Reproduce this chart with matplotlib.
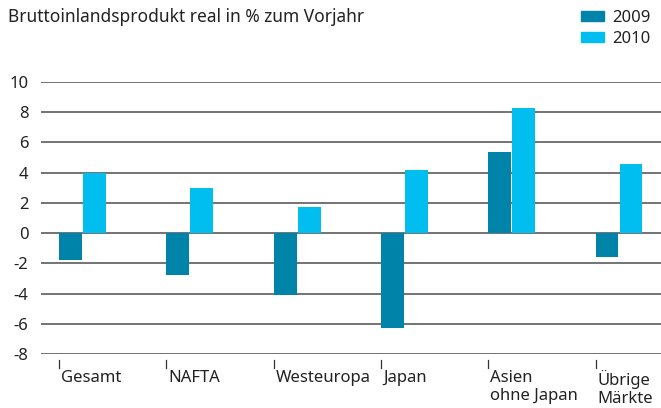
import matplotlib
matplotlib.use("Agg")
import matplotlib.pyplot as plt
import matplotlib.transforms as mtransforms
from matplotlib.patches import Patch

categories = ["Gesamt", "NAFTA", "Westeuropa", "Japan", "Asien\nohne Japan", "Übrige\nMärkte"]
years = ["2009", "2010"]
gdp_2009 = [-1.8, -2.8, -4.1, -6.3, 5.4, -1.6]
gdp_2010 = [4.0, 3.0, 1.7, 4.2, 8.3, 4.6]
yticks = [-8, -6, -4, -2, 0, 2, 4, 6, 8, 10]

dark = "#0083a9"
light = "#00bff0"
txt = "#222222"
fs = 12

plt.rcParams["font.family"] = ["Noto Sans", "DejaVu Sans"]

fig = plt.figure(figsize=(6.61, 4.08), dpi=100)
ax = fig.add_axes([41 / 661, 1 - 354 / 408, 1 - 41 / 661, (354 - 82) / 408])

# gridlines behind the bars
for t in yticks:
    ax.axhline(t, color="#4d4d4d", lw=1.1, zorder=1)

x = list(range(len(categories)))
w = 0.214
ax.bar(x, gdp_2009, width=w, align="edge", color=dark, zorder=2)
ax.bar([i + 0.224 for i in x], gdp_2010, width=w, align="edge", color=light, zorder=2)

ax.set_xlim(-18 / 107.3, 602 / 107.3)
ax.set_ylim(-8, 10)
ax.set_yticks(yticks)
ax.set_yticklabels([str(t) for t in yticks], fontsize=fs, color=txt)
ax.tick_params(axis="y", length=0, pad=9)
ax.set_xticks([])
for s in ax.spines.values():
    s.set_visible(False)

# category ticks and labels below the plot
trans = mtransforms.blended_transform_factory(ax.transData, ax.transAxes)
for i, c in zip(x, categories):
    ax.plot([i, i], [-0.022, -0.05], color="#333333", lw=0.9, transform=trans, clip_on=False)
    ax.text(i + 0.02, -0.06, c, transform=trans, ha="left", va="top",
            fontsize=fs, color=txt, linespacing=1.15)

fig.text(8 / 661, 1 - 17 / 408, "Bruttoinlandsprodukt real in % zum Vorjahr",
         fontsize=12.5, color=txt, va="center", ha="left")

handles = [Patch(color=dark), Patch(color=light)]
fig.legend(handles, years, loc="upper right", bbox_to_anchor=(1.0, 1.0), frameon=False,
           fontsize=fs, handlelength=1.4, handleheight=0.6, handletextpad=0.5,
           labelspacing=0.3, borderaxespad=0.2, labelcolor=txt)

fig.savefig("out.png", dpi=100)
